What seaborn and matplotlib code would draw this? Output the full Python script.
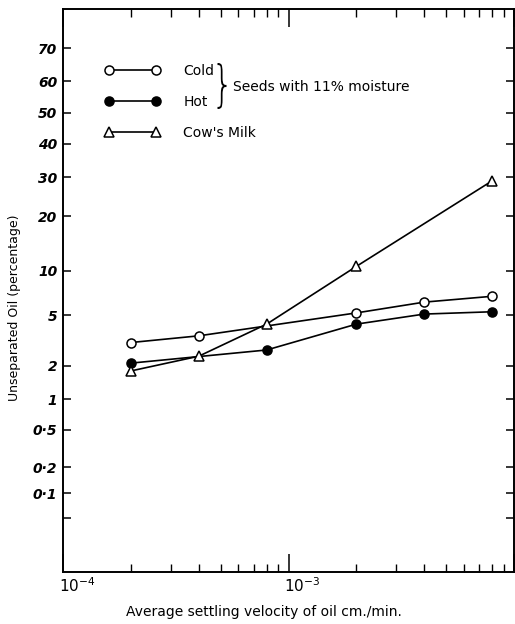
import math
import numpy as np
import pandas as pd
import matplotlib
matplotlib.use("Agg")
import matplotlib.pyplot as plt
import matplotlib.transforms as mtransforms
import seaborn as sns
from matplotlib.lines import Line2D
from matplotlib.textpath import TextPath
from matplotlib.patches import PathPatch
from matplotlib.font_manager import FontProperties
from matplotlib.ticker import FixedLocator, FixedFormatter, LogLocator, NullFormatter

# ---- data ----
velocity_cold = [2e-4, 4e-4, 2e-3, 4e-3, 8e-3]
oil_cold = [3.1, 3.5, 5.2, 6.2, 6.8]
velocity_hot = [2e-4, 8e-4, 2e-3, 4e-3, 8e-3]
oil_hot = [2.1, 2.7, 4.3, 5.1, 5.3]
velocity_milk = [2e-4, 4e-4, 8e-4, 2e-3, 8e-3]
oil_milk = [1.8, 2.4, 4.3, 10.6, 29.0]

series_labels = ["Cold", "Hot", "Cow's Milk"]
brace_text = "Seeds with 11% moisture"
y_ticks = [70, 60, 50, 40, 30, 20, 10, 5, 2, 1, 0.5, 0.2, 0.1, 0.05]
y_tick_labels = ["70", "60", "50", "40", "30", "20", "10", "5", "2", "1",
                 "0·5", "0·2", "0·1", ""]
x_ticks = [1e-4, 1e-3, 1e-2]
x_tick_labels = [r"$\mathit{10}^{\mathit{-4}}$", r"$\mathit{10}^{\mathit{-3}}$", ""]
x_label = "Average settling velocity of oil cm./min."
y_label = "Unseparated Oil (percentage)"

# ---- normal probability (probit) scale ----
_a = [-3.969683028665376e+01, 2.209460984245205e+02, -2.759285104469687e+02,
      1.383577518672690e+02, -3.066479806614716e+01, 2.506628277459239e+00]
_b = [-5.447609879822406e+01, 1.615858368580409e+02, -1.556989798598866e+02,
      6.680131188771972e+01, -1.328068155288572e+01]
_c = [-7.784894002430293e-03, -3.223964580411365e-01, -2.400758277161838e+00,
      -2.549732539343734e+00, 4.374664141464968e+00, 2.938163982698783e+00]
_d = [7.784695709041462e-03, 3.224671290700398e-01, 2.445134137142996e+00,
      3.754408661907416e+00]


def _ppf(p):
    p = np.asarray(p, dtype=float)
    with np.errstate(all="ignore"):
        plow = 0.02425
        q_lo = np.sqrt(-2 * np.log(np.clip(p, 1e-300, 1)))
        lo = (((((_c[0] * q_lo + _c[1]) * q_lo + _c[2]) * q_lo + _c[3]) * q_lo + _c[4]) * q_lo + _c[5]) / \
             ((((_d[0] * q_lo + _d[1]) * q_lo + _d[2]) * q_lo + _d[3]) * q_lo + 1)
        q_hi = np.sqrt(-2 * np.log(np.clip(1 - p, 1e-300, 1)))
        hi = -(((((_c[0] * q_hi + _c[1]) * q_hi + _c[2]) * q_hi + _c[3]) * q_hi + _c[4]) * q_hi + _c[5]) / \
             ((((_d[0] * q_hi + _d[1]) * q_hi + _d[2]) * q_hi + _d[3]) * q_hi + 1)
        q = p - 0.5
        r = q * q
        mid = (((((_a[0] * r + _a[1]) * r + _a[2]) * r + _a[3]) * r + _a[4]) * r + _a[5]) * q / \
              (((((_b[0] * r + _b[1]) * r + _b[2]) * r + _b[3]) * r + _b[4]) * r + 1)
        return np.where(p < plow, lo, np.where(p > 1 - plow, hi, mid))


_erf = np.vectorize(math.erf, otypes=[float])


def fwd(y):
    y = np.asarray(y, dtype=float)
    with np.errstate(all="ignore"):
        p = np.clip(y / 100.0, 1e-12, 1 - 1e-12)
    return _ppf(p)


def inv(z):
    z = np.asarray(z, dtype=float)
    z = np.clip(z, -8, 8)
    out = np.full(z.shape, np.nan)
    ok = np.isfinite(z)
    out[ok] = 100.0 * 0.5 * (1.0 + _erf(z[ok] / math.sqrt(2.0)))
    return out


# ---- figure ----
sns.set_theme(style="ticks")
plt.rcParams["font.family"] = ["DejaVu Sans"]
plt.rcParams["mathtext.fontset"] = "custom"
plt.rcParams["mathtext.rm"] = "DejaVu Sans"
plt.rcParams["mathtext.it"] = "DejaVu Sans:italic:bold"
for k in ["text.color", "axes.labelcolor", "xtick.color", "ytick.color", "axes.edgecolor"]:
    plt.rcParams[k] = "black"

fig = plt.figure(figsize=(5.15, 6.24), dpi=100)
ax = fig.add_axes([63 / 515, 52 / 624, 451 / 515, 563 / 624])

ax.set_xscale("log")
ax.set_yscale("function", functions=(fwd, inv))

line_kw = dict(color="black", linewidth=1.2, markersize=6.5, markeredgewidth=1.1,
               markeredgecolor="black", legend=False, errorbar=None, ax=ax)
sns.lineplot(x=velocity_cold, y=oil_cold, marker="o", markerfacecolor="white", **line_kw)
sns.lineplot(x=velocity_hot, y=oil_hot, marker="o", markerfacecolor="black", **line_kw)
sns.lineplot(x=velocity_milk, y=oil_milk, marker="^", markerfacecolor="white", **line_kw)

ax.set_xlim(1e-4, 1e-2)
ax.set_ylim(0.0096, 80)

ax.yaxis.set_major_locator(FixedLocator(y_ticks))
ax.yaxis.set_major_formatter(FixedFormatter(y_tick_labels))
ax.yaxis.set_minor_locator(FixedLocator([]))
ax.xaxis.set_major_locator(FixedLocator(x_ticks))
ax.xaxis.set_major_formatter(FixedFormatter(x_tick_labels))
ax.xaxis.set_minor_locator(LogLocator(base=10, subs=np.arange(2, 10)))
ax.xaxis.set_minor_formatter(NullFormatter())

for sp in ax.spines.values():
    sp.set_linewidth(1.4)
    sp.set_color("black")

ax.tick_params(axis="y", which="major", direction="in", length=6, width=1.1,
               left=True, right=True, labelsize=10, pad=4)
ax.tick_params(axis="x", which="major", direction="in", length=13, width=1.1,
               bottom=True, top=True, labelsize=11, pad=3)
ax.tick_params(axis="x", which="minor", direction="in", length=6, width=1.0,
               bottom=True, top=True)
for t in ax.get_yticklabels():
    t.set_fontstyle("italic")
    t.set_fontweight("bold")
shift = mtransforms.ScaledTranslation(14 / 100, 0, fig.dpi_scale_trans)
for t in ax.get_xticklabels():
    t.set_transform(t.get_transform() + shift)

ax.set_xlabel(x_label, fontsize=10)
ax.xaxis.set_label_coords(0.446, -0.058)
ax.set_ylabel(y_label, fontsize=9)
ax.yaxis.set_label_coords(-0.094, 0.47)

# legend
handles = [
    Line2D([], [], color="black", lw=1.2, marker="o", mfc="white", mec="black", ms=6.5, mew=1.1),
    Line2D([], [], color="black", lw=1.2, marker="o", mfc="black", mec="black", ms=6.5, mew=1.1),
    Line2D([], [], color="black", lw=1.2, marker="^", mfc="white", mec="black", ms=6.5, mew=1.1),
]
leg = ax.legend(handles, series_labels, numpoints=2, frameon=False, fontsize=10,
                loc="upper left", bbox_to_anchor=(105 / 515, 1 - 64 / 624),
                bbox_transform=fig.transFigure, borderpad=0, borderaxespad=0,
                handlelength=3.98, handletextpad=1.65, labelspacing=1.22)

# tall narrow brace grouping the two seed series
tp = TextPath((0, 0), "}", size=30, prop=FontProperties(family="DejaVu Sans", weight="light"))
ext = tp.get_extents()
bw, bh = 9.0, 46.0          # brace size in pixels
cx, cy = 222.0, 624 - 86.0  # brace centre in pixels (display coords)
brace_tr = (mtransforms.Affine2D()
            .translate(-(ext.x0 + ext.x1) / 2, -(ext.y0 + ext.y1) / 2)
            .scale(bw / ext.width, bh / ext.height)
            .translate(cx, cy))
fig.patches.append(PathPatch(tp, transform=brace_tr, facecolor="black",
                             edgecolor="none", figure=fig))
fig.text(233 / 515, 1 - 87 / 624, brace_text, fontsize=10, ha="left", va="center")

fig.savefig("out.png", dpi=100)
